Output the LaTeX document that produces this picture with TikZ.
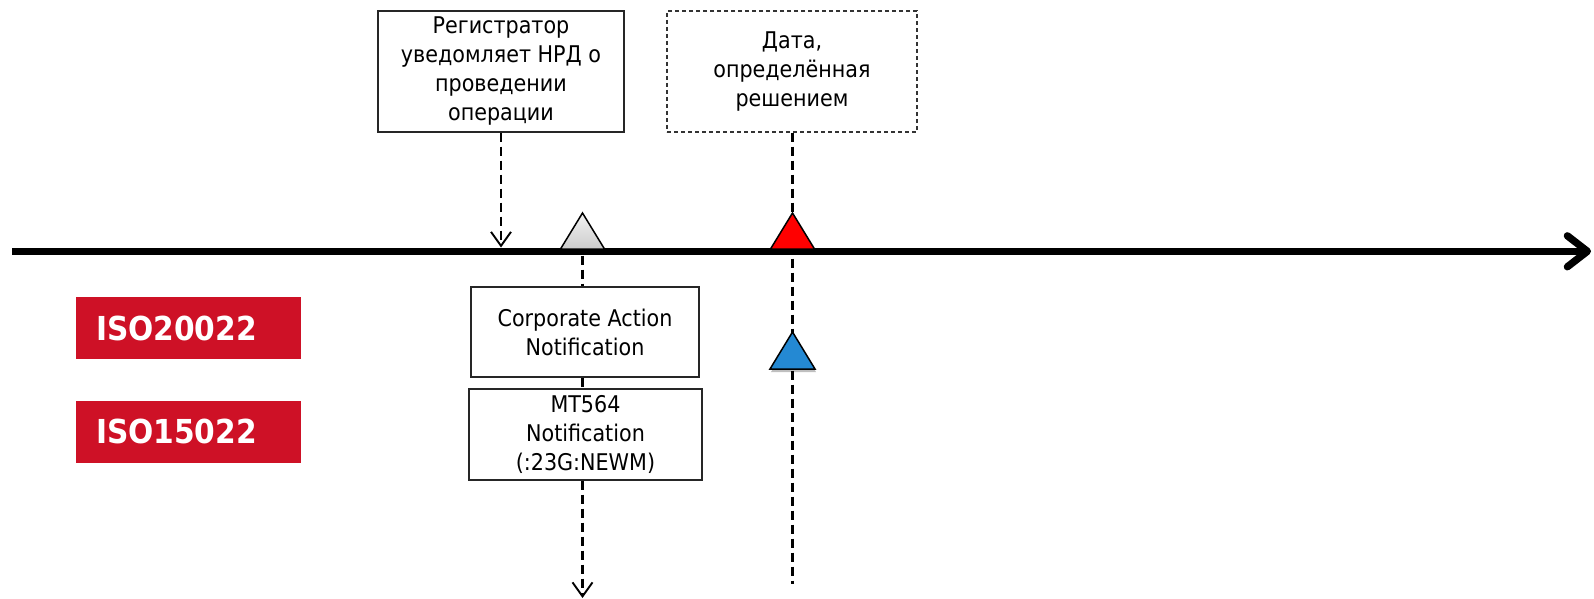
\documentclass[tikz,border=0pt]{standalone}
\usepackage{fontspec}
\setmainfont{DejaVu Sans Condensed}
\usetikzlibrary{arrows.meta,shadows}
\definecolor{isored}{RGB}{206,17,38}
\definecolor{tblue}{RGB}{36,137,211}
\definecolor{tred}{RGB}{255,0,0}
\begin{document}
\begin{tikzpicture}[x=1pt,y=-1pt,
  box/.style={draw=black!85, line width=1.3pt, fill=white, align=center, inner sep=0pt,
    font=\fontsize{23}{29}\selectfont},
  isobox/.style={fill=isored, text=white, font=\bfseries\fontsize{33}{38}\selectfont,
    minimum height=62pt, text width=185pt, align=left, inner xsep=20pt, inner ysep=0pt},
  dline/.style={line width=2.2pt, dash pattern=on 9pt off 5pt},
  vtip/.style={-{Straight Barb[length=14pt,width=20pt,line width=1.9pt]}},
  tri/.style={draw=black, line width=1.5pt, line join=miter},
  trishadow/.style={drop shadow={shadow xshift=1pt, shadow yshift=-3pt, opacity=0.25, fill=black}}
]
\useasboundingbox (0,0) rectangle (1594,599);

% boxes above
\node[box, minimum width=246pt, minimum height=121pt] (reg) at (501,71.5)
  {Регистратор\\уведомляет НРД о\\проведении\\операции};
\node[box, draw=black!80, line width=1.1pt, dash pattern=on 4pt off 3pt,
  minimum width=250pt, minimum height=121pt] (date) at (792,71.5)
  {Дата,\\определённая\\решением};

% date line (behind the triangles)
\coordinate (rA) at (792.5,213);
\coordinate (bA) at (792.5,332);
\coordinate (dEnd) at (792.5,584);
\draw[dline] (date.south -| rA) -- (dEnd);

% timeline
\coordinate (tlS) at (12,251.3);
\coordinate (tlE) at (1591,251.3);
\draw[line width=7.3pt, -{Straight Barb[length=20pt,width=31pt,round]}] (tlS) -- (tlE);

% ISO labels
\node[isobox, minimum width=225pt] (iso2) at (188.5,328) {ISO20022};
\node[isobox, minimum width=225pt] (iso1) at (188.5,431.5) {ISO15022};

% boxes below
\node[box, minimum width=228pt, minimum height=90pt] (ca) at (585,332)
  {Corporate Action\\Notification};
\node[box, minimum width=233pt, minimum height=91pt] (mt) at (585.5,434.5)
  {MT564\\Notification\\(:23G:NEWM)};

% triangles
\coordinate (gA) at (582.5,213);
\path[tri, trishadow, top color=gray!10, bottom color=gray!40]
  (560.5,249) -- (gA) -- (604.5,249) -- cycle;
\path[tri, trishadow, fill=tred] (770.5,249) -- (rA) -- (814.5,249) -- cycle;
\path[tri, trishadow, fill=tblue] (770,369) -- (bA) -- (815,369) -- cycle;

% connectors
\coordinate (tlA) at (501,247.5);
\draw[dline, vtip] (reg.south) -- (tlA);

\coordinate (gB) at (582.5,255.5);
\draw[dline] (gB) -- (gB |- ca.north);
\draw[dline] (ca.south -| gB) -- (mt.north -| gB);
\coordinate (bEnd) at (582.5,598);
\draw[dline, vtip] (mt.south -| gB) -- (bEnd);
\end{tikzpicture}
\end{document}
